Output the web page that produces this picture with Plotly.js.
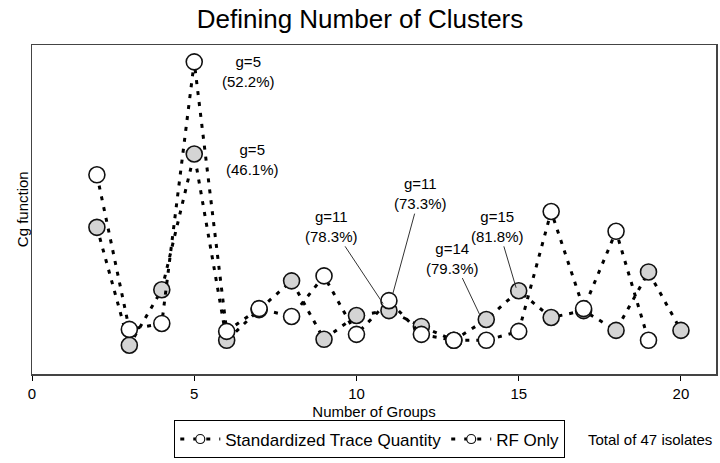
<!DOCTYPE html>
<html>
<head>
<meta charset="utf-8">
<script src="https://cdn.plot.ly/plotly-3.0.1.min.js"></script>
<style>html,body{margin:0;padding:0;background:#fff;}#chart{width:720px;height:463px;}</style>
</head>
<body>
<div id="chart"></div>
<script>
// Number of groups
const groupsSTQ = [2,3,4,5,6,7,8,9,10,11,12,13,14,15,16,17,18,19,20];
const cgSTQ = [14.8,2.9,8.5,22.2,3.4,6.5,9.4,3.5,5.9,6.4,4.8,3.4,5.5,8.4,5.7,6.4,4.4,10.3,4.4];
const groupsRF = [2,3,4,5,6,7,8,9,10,11,12,13,14,15,16,17,18,19];
const cgRF = [20.1,4.5,5.1,31.5,4.3,6.6,5.8,9.9,4.0,7.4,4.0,3.4,3.4,4.3,16.4,6.6,14.4,3.4];
const seriesNames = ['Standardized Trace Quantity','RF Only'];
const xTicks = [0,5,10,15,20];

// Callout labels: [text, textX, textY, tipX, tipY, arrow]
const labels = [
  ['g=5<br>(52.2%)', 6.66, 30.5, null, null, false],
  ['g=5<br>(46.1%)', 6.81, 21.6, null, null, false],
  ['g=11<br>(78.3%)', 9.24, 14.9, 10.82, 7.1, true],
  ['g=11<br>(73.3%)', 11.96, 18.2, 11.12, 8.1, true],
  ['g=14<br>(79.3%)', 12.97, 11.7, 13.81, 5.9, true],
  ['g=15<br>(81.8%)', 14.36, 14.9, 14.92, 8.7, true]
];

const font = 'Arial, "Liberation Sans", sans-serif';
const dash = '4px,7px';

const traces = [
  {x: groupsSTQ, y: cgSTQ, name: seriesNames[0], type: 'scatter', mode: 'lines+markers', showlegend: false,
   line: {color: '#000', width: 3, dash: dash},
   marker: {symbol: 'circle', size: 16, color: '#d4d4d4', line: {color: '#111', width: 1.6}}},
  {x: groupsRF, y: cgRF, name: seriesNames[1], type: 'scatter', mode: 'lines+markers', showlegend: false,
   line: {color: '#000', width: 3, dash: dash},
   marker: {symbol: 'circle', size: 16, color: '#ffffff', line: {color: '#111', width: 1.6}}},
  // legend entries (small symbols as in the original key)
  {x: [null], y: [null], name: seriesNames[0], type: 'scatter', mode: 'lines+markers',
   line: {color: '#000', width: 3, dash: '4px,9px'},
   marker: {symbol: 'circle', size: 9, color: '#ffffff', line: {color: '#111', width: 1.2}}},
  {x: [null], y: [null], name: seriesNames[1], type: 'scatter', mode: 'lines+markers',
   line: {color: '#000', width: 3, dash: '4px,9px'},
   marker: {symbol: 'circle', size: 9, color: '#ffffff', line: {color: '#111', width: 1.2}}}
];

const annotations = labels.map(l => {
  if (!l[5]) {
    return {x: l[1], y: l[2], xref: 'x', yref: 'y', text: l[0], showarrow: false,
            font: {family: font, size: 15, color: '#000'}};
  }
  return {x: l[3], y: l[4], xref: 'x', yref: 'y', ax: l[1], ay: l[2], axref: 'x', ayref: 'y',
          text: l[0], showarrow: true, arrowhead: 0, arrowwidth: 1, arrowcolor: '#333',
          standoff: 0, font: {family: font, size: 15, color: '#000'}};
});
annotations.push({x: -0.029, y: 0.5, xref: 'paper', yref: 'paper', text: 'Cg function',
  textangle: -90, showarrow: false, font: {family: font, size: 15, color: '#000'}});
annotations.push({x: 0.81, y: -0.198, xref: 'paper', yref: 'paper', xanchor: 'left', yanchor: 'middle',
  text: 'Total of 47 isolates', showarrow: false, font: {family: font, size: 15, color: '#000'}});

const layout = {
  width: 720, height: 463,
  margin: {l: 32, r: 4, t: 45, b: 87},
  paper_bgcolor: '#fff', plot_bgcolor: '#fff',
  title: {text: 'Defining Number of Clusters', x: 0.5, xanchor: 'center', y: 0.96, yanchor: 'middle',
          font: {family: font, size: 26, color: '#000'}},
  xaxis: {range: [0, 21.08], tickvals: xTicks, ticks: 'outside', ticklen: 5, tickcolor: '#000',
          showgrid: false, zeroline: false, showline: true, linecolor: '#444', linewidth: 1.5, mirror: true,
          tickfont: {family: font, size: 15, color: '#000'}, automargin: false,
          title: {text: 'Number of Groups', standoff: 6, font: {family: font, size: 15, color: '#000'}}},
  yaxis: {range: [0, 33.2], showticklabels: false, ticks: '', showgrid: false, zeroline: false,
          showline: true, linecolor: '#444', linewidth: 1.5, mirror: true, automargin: false},
  showlegend: true,
  legend: {orientation: 'h', x: 0.208, y: -0.199, xanchor: 'left', yanchor: 'middle',
           bordercolor: '#000', borderwidth: 1, bgcolor: '#fff',
           font: {family: font, size: 17, color: '#000'}, itemwidth: 40,
           tracegroupgap: 0},
  annotations: annotations
};

Plotly.newPlot('chart', traces, layout, {displayModeBar: false, staticPlot: true});
</script>
</body>
</html>
